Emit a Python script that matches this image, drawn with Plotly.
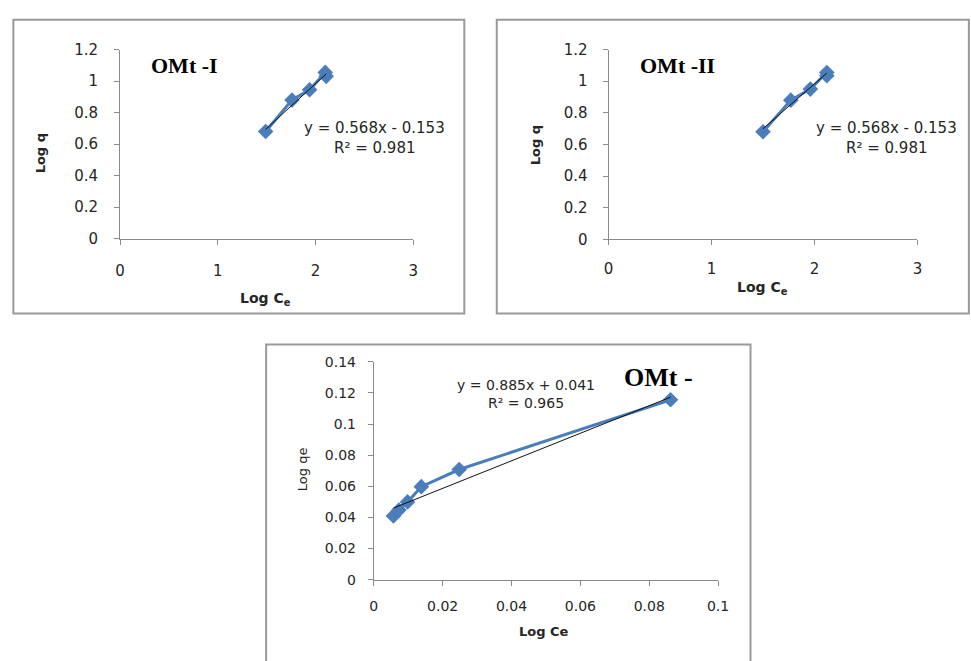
import plotly.graph_objects as go

# ---- data ----
ce_I = [1.49, 1.76, 1.94, 2.10, 2.11]
q_I = [0.68, 0.88, 0.945, 1.055, 1.03]
ce_II = [1.50, 1.77, 1.96, 2.12, 2.12]
q_II = [0.68, 0.88, 0.95, 1.055, 1.035]
ce_III = [0.0057, 0.0073, 0.0098, 0.0138, 0.0248, 0.0862]
q_III = [0.041, 0.0448, 0.050, 0.0598, 0.0708, 0.1156]

fit_I = (0.568, -0.153)
fit_II = (0.568, -0.153)
fit_III = (0.885, 0.041)

titles = ["OMt -I", "OMt -II", "OMt -"]
eq_texts = ["y = 0.568x - 0.153", "y = 0.568x - 0.153", "y = 0.885x + 0.041"]
r2_texts = ["R² = 0.981", "R² = 0.981", "R² = 0.965"]

W, H = 971, 661
def px(x):
    return x / W
def py(y):
    return 1 - y / H

BLUE = "#4A7EBB"
SANS = "DejaVu Sans, Verdana, sans-serif"
fig = go.Figure()

def add_panel(idx, xs, ys, fit):
    xa = "x" if idx == 1 else f"x{idx}"
    ya = "y" if idx == 1 else f"y{idx}"
    fig.add_trace(go.Scatter(x=xs, y=ys, mode="lines+markers", xaxis=xa, yaxis=ya,
                             line=dict(color=BLUE, width=3),
                             marker=dict(symbol="diamond", size=12, color=BLUE),
                             showlegend=False, hoverinfo="skip"))
    x0, x1 = min(xs), max(xs)
    fig.add_trace(go.Scatter(x=[x0, x1], y=[fit[0] * x0 + fit[1], fit[0] * x1 + fit[1]],
                             mode="lines", xaxis=xa, yaxis=ya,
                             line=dict(color="#111111", width=1),
                             showlegend=False, hoverinfo="skip"))

add_panel(1, ce_I, q_I, fit_I)
add_panel(2, ce_II, q_II, fit_II)
add_panel(3, ce_III, q_III, fit_III)

tickfont_big = dict(family=SANS, size=15, color="#262626")
tickfont_small = dict(family=SANS, size=14, color="#262626")

def axis(domain, rng, dtick, font, standoff, anchor):
    return dict(domain=domain, range=rng, dtick=dtick, tick0=0, showgrid=False, zeroline=False,
                showline=True, linecolor="#8a8a8a", linewidth=1, ticks="outside", ticklen=5,
                tickcolor="#8a8a8a", tickfont=font, ticklabelstandoff=standoff, anchor=anchor,
                fixedrange=True)

fig.update_layout(
    width=W, height=H, margin=dict(l=0, r=0, t=0, b=0),
    paper_bgcolor="white", plot_bgcolor="white",
    xaxis=axis([px(117), px(415)], [0, 3], 1, tickfont_big, 13, "y"),
    yaxis=axis([py(236), py(41.7)], [0, 1.2], 0.2, tickfont_big, 13, "x"),
    xaxis2=axis([px(613.7), px(927.7)], [0, 3], 1, tickfont_big, 11, "y2"),
    yaxis2=axis([py(236.7), py(41.7)], [0, 1.2], 0.2, tickfont_big, 12, "x2"),
    xaxis3=axis([px(375), px(725)], [0, 0.1], 0.02, tickfont_small, 8, "y3"),
    yaxis3=axis([py(586.7), py(362.7)], [0, 0.14], 0.02, tickfont_small, 9, "x3"),
)
fig.update_layout(yaxis3=dict(tickformat=".2~f"), xaxis3=dict(tickformat=".2~f"))

# frames
frame = dict(type="rect", xref="paper", yref="paper", line=dict(color="#9a9a9a", width=2),
             fillcolor="rgba(0,0,0,0)", layer="below")
fig.add_shape(**frame, x0=px(8.5), x1=px(467), y0=py(313), y1=py(11))
fig.add_shape(**frame, x0=px(500), x1=px(980), y0=py(313), y1=py(11))
fig.add_shape(**frame, x0=px(265.5), x1=px(758), y0=py(675), y1=py(345))

def ann(x, y, text, size, family=SANS, angle=0, color="#262626"):
    fig.add_annotation(x=px(x), y=py(y), xref="paper", yref="paper", text=text, showarrow=False,
                       xanchor="center", yanchor="middle", textangle=angle,
                       font=dict(family=family, size=size, color=color))

serif = "Liberation Serif, Times New Roman, serif"
# titles
ann(183, 58, f"<b>{titles[0]}</b>", 22, serif, color="black")
ann(684, 58, f"<b>{titles[1]}</b>", 22, serif, color="black")
ann(664, 379, f"<b>{titles[2]}</b>", 26, serif, color="black")

# axis titles
ann(37, 148, "<b>Log q</b>", 13, angle=-90)
ann(265, 298, "<b>Log C<sub>e</sub></b>", 14)
ann(539, 140, "<b>Log q</b>", 13, angle=-90)
ann(770, 287, "<b>Log C<sub>e</sub></b>", 14)
ann(302, 473, "Log qe", 13, angle=-90)
ann(548, 640, "<b>Log Ce</b>", 13)

# equations
ann(376, 122, eq_texts[0], 15)
ann(376, 142.5, r2_texts[0], 15)
ann(896, 122, eq_texts[1], 15)
ann(896, 142.5, r2_texts[1], 15)
ann(530, 387, eq_texts[2], 14)
ann(530, 405, r2_texts[2], 14)

fig.write_html("out.html")
